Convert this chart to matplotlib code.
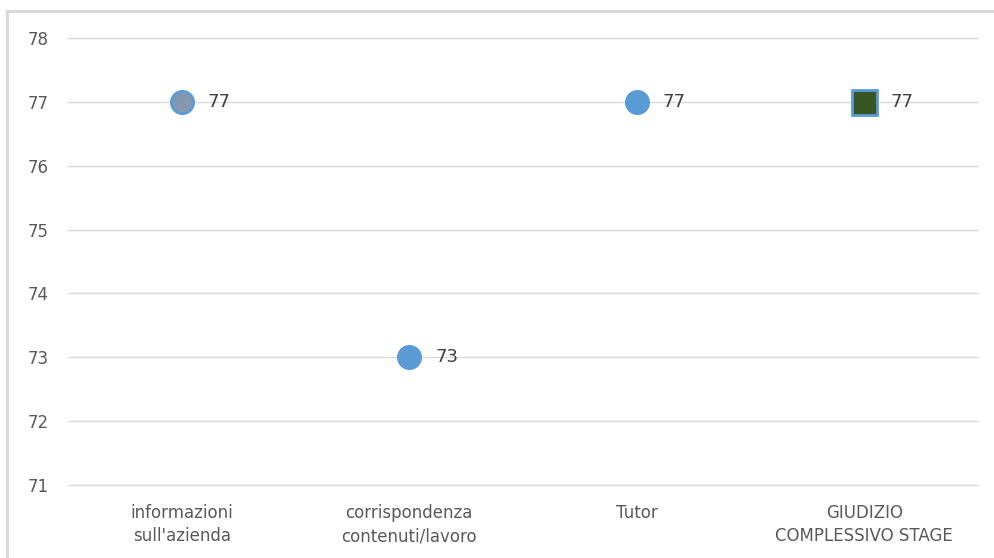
import matplotlib.pyplot as plt
from matplotlib.patches import Rectangle

plt.rcParams['font.family'] = ['DejaVu Sans']

categories = ["informazioni\nsull'azienda", "corrispondenza\ncontenuti/lavoro", "Tutor", "GIUDIZIO\nCOMPLESSIVO STAGE"]
values = [77, 73, 77, 77]
markers = ['o', 'o', 'o', 's']
fills = ['#8497B0', '#5B9BD5', '#5B9BD5', '#375623']
sizes = [16, 16, 16, 18]
yticks = [71, 72, 73, 74, 75, 76, 77, 78]

fig = plt.figure(figsize=(9.94, 5.58), dpi=100)
# outer chart frame, right and bottom edges fall outside the image
fig.patches.append(Rectangle((7 / 994, -0.05), 1.0, 1.05 - 11 / 558 + 0.0, transform=fig.transFigure,
                             fill=False, edgecolor='#D9D9D9', lw=2.2))
ax = fig.add_axes([0.0684, 0.1308, 0.9156, 0.8011])

for i, (v, m, c, s) in enumerate(zip(values, markers, fills, sizes)):
    ax.plot(i, v, marker=m, ms=s, mfc=c, mec='#5B9BD5', mew=2, ls='none', zorder=3)
    ax.annotate(str(v), (i, v), xytext=(26, 0), textcoords='offset pixels',
                ha='left', va='center', fontsize=13, color='#404040')

ax.set_xlim(-0.5, 3.5)
ax.set_ylim(71, 78)
ax.set_yticks(yticks)
ax.set_xticks(range(len(categories)))
ax.set_xticklabels(categories, fontsize=12, color='#595959', linespacing=1.35)
ax.tick_params(axis='y', labelsize=12, labelcolor='#595959', length=0, pad=14)
ax.tick_params(axis='x', length=0, pad=14)
ax.grid(axis='y', color='#D9D9D9', lw=1)
for gl in ax.get_ygridlines():
    gl.set_clip_on(False)
ax.set_axisbelow(True)
for sp in ax.spines.values():
    sp.set_visible(False)

fig.savefig('out.png', dpi=100)
